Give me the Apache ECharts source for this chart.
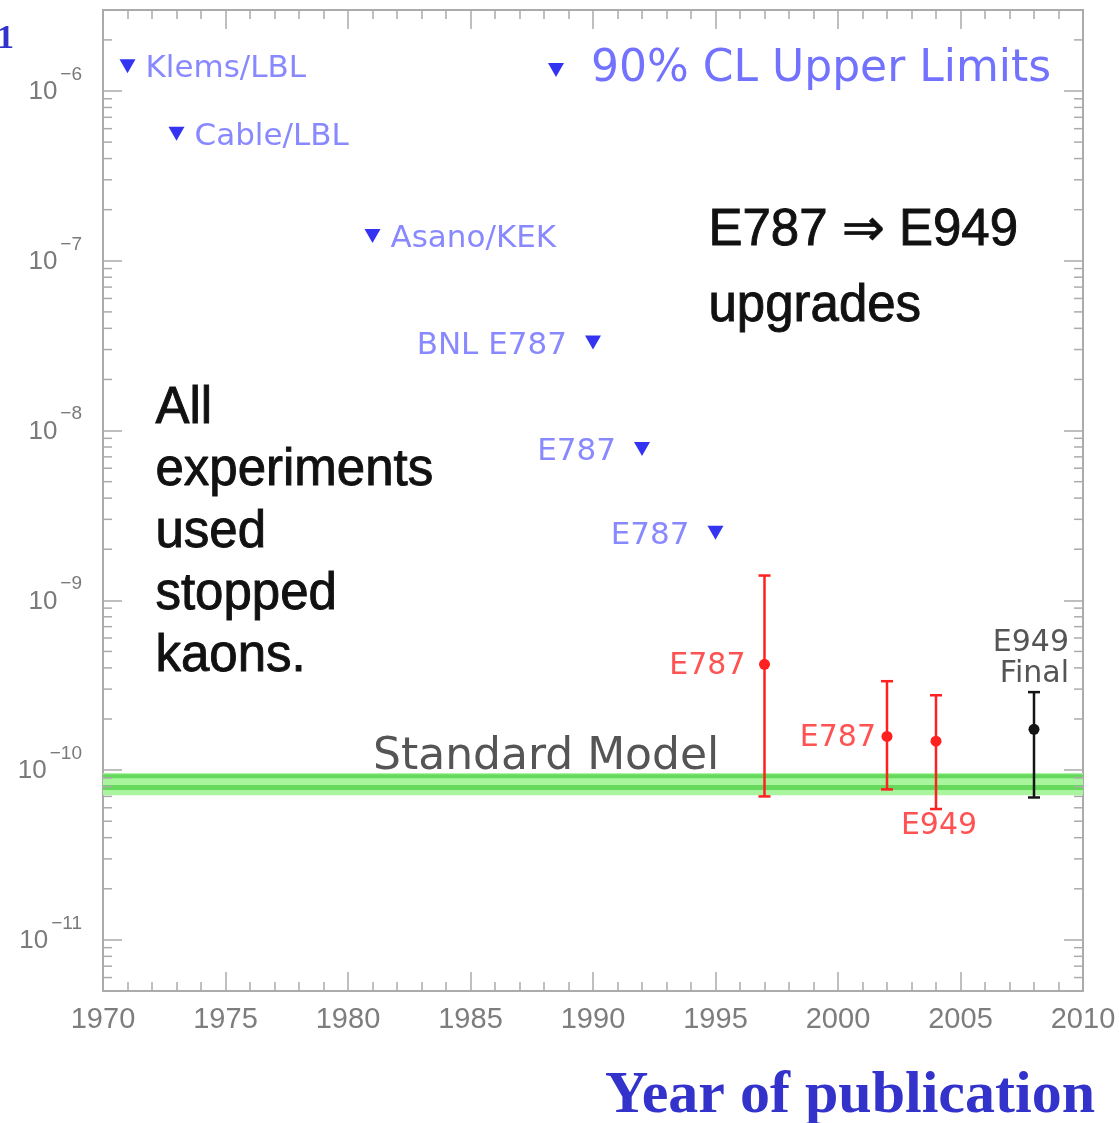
<!DOCTYPE html>
<html><head><meta charset="utf-8">
<script src="https://cdn.jsdelivr.net/npm/echarts@6/dist/echarts.min.js"></script>
<style>html,body{margin:0;padding:0;background:#fff}#c{width:1119px;height:1123px}</style>
</head><body><div id="c"></div>
<script>
// ---- data ----
const limitYears  = [1971, 1973, 1981, 1990, 1992, 1995];
const limitValues = [1.4e-6, 5.6e-7, 1.4e-7, 3.3e-8, 7.8e-9, 2.5e-9];
const limitNames  = ['Klems/LBL', 'Cable/LBL', 'Asano/KEK', 'BNL E787', 'E787', 'E787'];

const measYears   = [1997, 2002, 2004, 2008];
const measCentral = [4.2e-10, 1.58e-10, 1.48e-10, 1.74e-10];
const measLow     = [7.0e-11, 7.7e-11, 5.9e-11, 6.9e-11];
const measHigh    = [1.4e-9, 3.34e-10, 2.76e-10, 2.88e-10];
const measNames   = ['E787', 'E787', 'E949', 'E949\nFinal'];

const smBand  = [7.1e-11, 9.6e-11];   // Standard Model band low / high
const smLines = [7.9e-11, 9.2e-11];   // darker stripes inside band

const xTickYears = [1970, 1975, 1980, 1985, 1990, 1995, 2000, 2005, 2010];
const yDecades   = [-11, -10, -9, -8, -7, -6];
const yRange     = [5e-12, 3e-6];

// ---- styles (kept separate) ----
const measStyle = [
  {color: '#ff2020', text: '#ff5252', pos: 'left', dx: -19},
  {color: '#ff2020', text: '#ff5252', pos: 'left', dx: -11},
  {color: '#ff2020', text: '#ff5252', pos: 'below', dx: 3},
  {color: '#151515', text: '#555555', pos: 'above', dx: 35}
];
const FRAME = '#ababab';

const yMinor = [];
for (let e = -12; e <= -6; e++) {
  for (let k = 2; k <= 9; k++) {
    const v = k * Math.pow(10, e);
    if (v > yRange[0] && v < yRange[1]) yMinor.push([xTickYears[0], v]);
  }
}

const chart = echarts.init(document.getElementById('c'), null, {renderer: 'canvas'});

const baseX = {
  type: 'value', min: xTickYears[0], max: xTickYears[xTickYears.length - 1], interval: 5,
  axisLine: {show: true, lineStyle: {color: FRAME, width: 2}},
  axisTick: {show: true, inside: true, length: 19, lineStyle: {color: FRAME, width: 1.5}},
  minorTick: {show: true, splitNumber: 5, length: 9, lineStyle: {color: FRAME, width: 1.5}},
  splitLine: {show: false}, minorSplitLine: {show: false}
};
const baseY = {
  type: 'log', logBase: 10, min: yRange[0], max: yRange[1], splitNumber: 6,
  axisLine: {show: true, lineStyle: {color: FRAME, width: 2}},
  axisTick: {show: true, inside: true, length: 19, lineStyle: {color: FRAME, width: 1.5}},
  splitLine: {show: false}
};

const bigText = {fontSize: 51, fontFamily: 'Liberation Sans', fill: '#111111', stroke: '#111111', lineWidth: 0.9};

const option = {
  animation: false,
  backgroundColor: '#ffffff',
  grid: {left: 103, top: 10, width: 980, height: 981, containLabel: false},
  legend: {
    data: ['90% CL Upper Limits'], left: 548, top: 48, padding: 0,
    icon: 'path://M0,0L16,0L8,14Z',
    itemWidth: 16, itemHeight: 14, selectedMode: false,
    textStyle: {fontSize: 44, color: '#7272ff', fontFamily: 'DejaVu Sans', padding: [0, 0, 0, 22]}
  },
  xAxis: [
    Object.assign({}, baseX, {
      position: 'bottom',
      axisLabel: {show: true, margin: 14, fontSize: 29, color: '#7d7d7d', fontFamily: 'Liberation Sans',
        formatter: v => xTickYears.includes(v) ? String(v) : ''}
    }),
    Object.assign({}, baseX, {position: 'top', axisLabel: {show: false}})
  ],
  yAxis: [
    Object.assign({}, baseY, {
      position: 'left',
      axisLabel: {
        show: true, margin: 21, color: '#7a7a7a', padding: [0, 0, 12, 0],
        formatter: v => {
          const l = Math.log10(v), e = Math.round(l);
          if (Math.abs(l - e) > 1e-6 || !yDecades.includes(e)) return '';
          return '{b|10}{s|\u2212' + (-e) + '}';
        },
        rich: {
          b: {fontSize: 26, fontFamily: 'Liberation Sans', color: '#7a7a7a', lineHeight: 40, verticalAlign: 'bottom'},
          s: {fontSize: 19, fontFamily: 'Liberation Sans', color: '#7a7a7a', verticalAlign: 'top', padding: [0, 0, 0, 3]}
        }
      }
    }),
    Object.assign({}, baseY, {position: 'right', axisLabel: {show: false}})
  ],
  series: [
    {
      type: 'custom', name: 'SM', z: 1, silent: true,
      data: [[xTickYears[0], smBand[0], smBand[1]]],
      renderItem: (params, api) => {
        const x0 = xTickYears[0], x1 = xTickYears[xTickYears.length - 1];
        const tl = api.coord([x0, api.value(2)]), br = api.coord([x1, api.value(1)]);
        const a = api.coord([x0, smLines[1]]), b = api.coord([x0, smLines[0]]);
        return {type: 'group', children: [
          {type: 'rect', shape: {x: tl[0], y: tl[1], width: br[0] - tl[0], height: br[1] - tl[1]}, style: {fill: '#a8f59e'}},
          {type: 'line', shape: {x1: tl[0], y1: a[1], x2: br[0], y2: a[1]}, style: {stroke: '#66d95c', lineWidth: 4}},
          {type: 'line', shape: {x1: tl[0], y1: b[1], x2: br[0], y2: b[1]}, style: {stroke: '#66d95c', lineWidth: 5}}
        ]};
      }
    },
    {
      type: 'custom', name: 'minor', z: 3, silent: true, clip: false,
      data: yMinor,
      renderItem: (params, api) => {
        const v = api.value(1);
        const L = api.coord([xTickYears[0], v]), R = api.coord([xTickYears[xTickYears.length - 1], v]);
        return {type: 'group', children: [
          {type: 'line', shape: {x1: L[0], y1: L[1], x2: L[0] + 9, y2: L[1]}, style: {stroke: FRAME, lineWidth: 1.5}},
          {type: 'line', shape: {x1: R[0], y1: R[1], x2: R[0] - 9, y2: R[1]}, style: {stroke: FRAME, lineWidth: 1.5}}
        ]};
      }
    },
    {
      type: 'scatter', name: '90% CL Upper Limits', z: 5,
      symbol: 'triangle', symbolRotate: 180, symbolSize: [16, 14],
      itemStyle: {color: '#0000ee'},
      data: limitYears.map((y, i) => ({
        value: [y, limitValues[i]],
        label: {position: y < 1985 ? 'right' : 'left', distance: y < 1985 ? 10 : 18}
      })),
      label: {
        show: true, formatter: p => limitNames[p.dataIndex], offset: [0, 3],
        fontSize: 31, color: '#6b6bff', fontFamily: 'DejaVu Sans'
      }
    },
    {
      type: 'custom', name: 'measurements', z: 6,
      data: measYears.map((y, i) => [y, measCentral[i], measLow[i], measHigh[i]]),
      renderItem: (params, api) => {
        const i = params.dataIndex, st = measStyle[i];
        const x = api.value(0);
        const pc = api.coord([x, api.value(1)]);
        const pl = api.coord([x, api.value(2)]);
        const ph = api.coord([x, api.value(3)]);
        const cap = 6;
        const ls = {stroke: st.color, lineWidth: 2.5};
        let txt;
        const font = {fontSize: 30, fontFamily: 'DejaVu Sans', fill: st.text, text: measNames[i]};
        if (st.pos === 'left') {
          txt = {type: 'text', x: pc[0] + st.dx, y: pc[1] + 2, style: Object.assign({align: 'right', verticalAlign: 'middle'}, font)};
        } else if (st.pos === 'below') {
          txt = {type: 'text', x: pc[0] + st.dx, y: pl[1] + 17, style: Object.assign({align: 'center', verticalAlign: 'middle'}, font)};
        } else {
          txt = {type: 'text', x: pc[0] + st.dx, y: ph[1] - 2, style: Object.assign({align: 'right', verticalAlign: 'bottom', lineHeight: 31}, font)};
        }
        return {type: 'group', children: [
          {type: 'line', shape: {x1: pc[0], y1: pl[1], x2: pc[0], y2: ph[1]}, style: ls},
          {type: 'line', shape: {x1: pc[0] - cap, y1: pl[1], x2: pc[0] + cap, y2: pl[1]}, style: ls},
          {type: 'line', shape: {x1: pc[0] - cap, y1: ph[1], x2: pc[0] + cap, y2: ph[1]}, style: ls},
          {type: 'circle', shape: {cx: pc[0], cy: pc[1], r: 5.5}, style: {fill: st.color}},
          txt
        ]};
      }
    }
  ],
  graphic: [
    {type: 'text', left: 373, top: 736, style: {text: 'Standard Model', fontSize: 44, fontFamily: 'DejaVu Sans', fill: '#555555'}},
    {type: 'text', left: 708, top: 205, style: Object.assign({text: 'E787 \u21D2 E949'}, bigText)},
    {type: 'text', left: 708, top: 281, style: Object.assign({text: 'upgrades'}, bigText)},
    {type: 'text', left: 155, top: 378, style: Object.assign({text: 'All\nexperiments\nused\nstopped\nkaons.', lineHeight: 62}, bigText)},
    {type: 'text', left: 605, top: 1066, style: {text: 'Year of publication', fontSize: 60, fontWeight: 'bold', fontFamily: 'Liberation Serif', fill: '#3333cc'}},
    {type: 'text', left: -3, top: 22, style: {text: '1', fontSize: 34, fontWeight: 'bold', fontFamily: 'Liberation Serif', fill: '#3333cc'}}
  ]
};
chart.setOption(option);
</script>
</body></html>
